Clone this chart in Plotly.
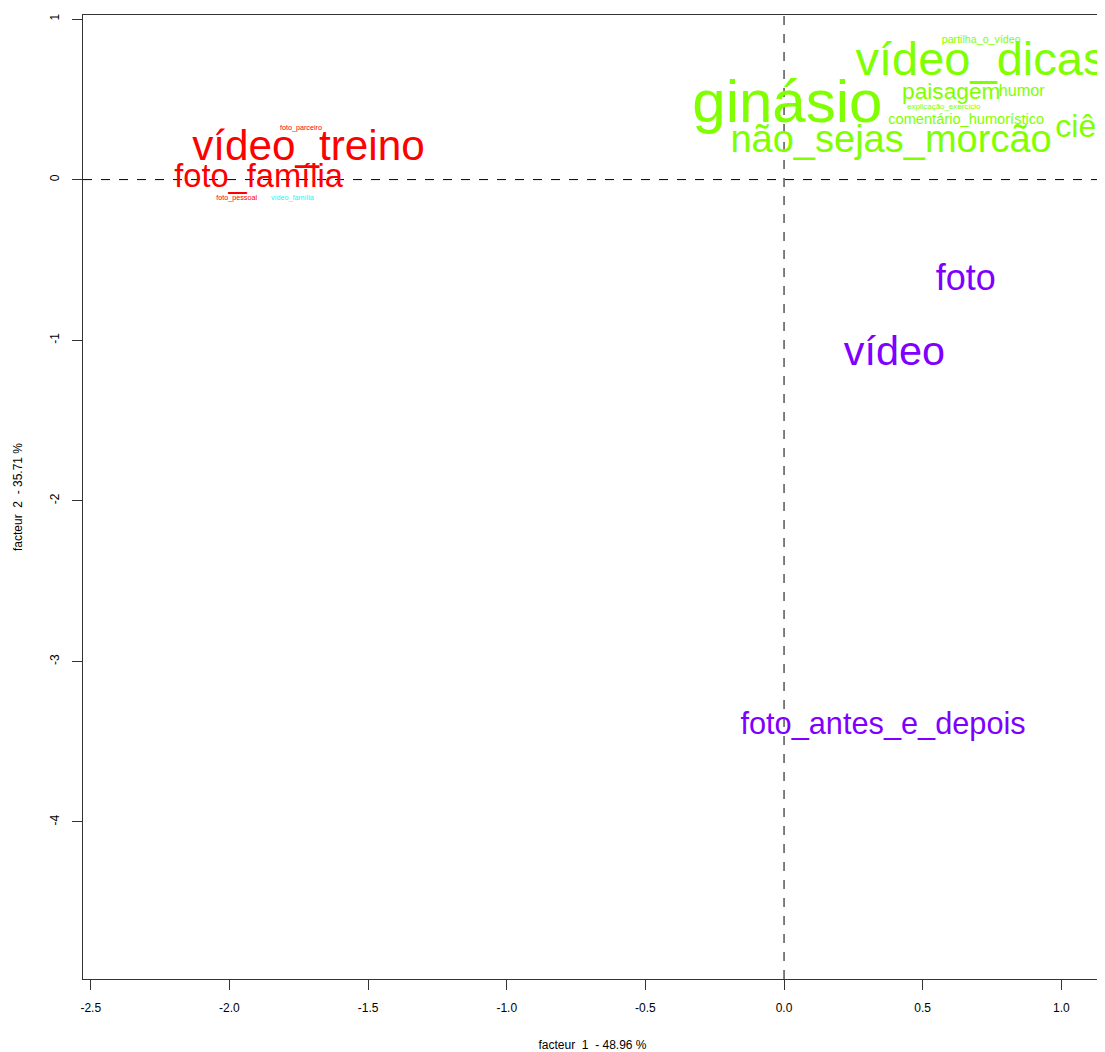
import plotly.graph_objects as go

# --- data ---
labels = ["vídeo_treino", "foto_família", "foto_parceiro", "foto_pessoal",
          "ginásio", "vídeo_dicas", "partilha_o_vídeo", "paisagem", "humor",
          "explicação_exercício", "comentário_humorístico", "não_sejas_morcão", "ciência",
          "vídeo_família",
          "foto", "vídeo", "foto_antes_e_depois"]
factor1 = [-1.715, -1.895, -1.742, -1.974,
           0.012, 0.710, 0.711, 0.603, 0.857,
           0.576, 0.657, 0.386, 1.158,
           -1.773,
           0.655, 0.398, 0.357]
factor2 = [0.186, 0.005, 0.318, -0.118,
           0.452, 0.723, 0.867, 0.534, 0.544,
           0.450, 0.371, 0.231, 0.315,
           -0.118,
           -0.629, -1.093, -3.402]
groups = [1, 1, 1, 1,
          2, 2, 2, 2, 2,
          2, 2, 2, 2,
          3,
          4, 4, 4]
# relative label weight (R cex-like)
weight = [3.52, 2.72, 0.60, 0.60,
          5.0, 3.92, 0.89, 1.89, 1.35,
          0.66, 1.22, 3.17, 2.67,
          0.60,
          3.0, 3.45, 2.56]
group_colors = {1: "#FF0000", 2: "#80FF00", 3: "#00FFFF", 4: "#8000FF"}
x_ticks = [-2.5, -2.0, -1.5, -1.0, -0.5, 0.0, 0.5, 1.0]
y_ticks = [1, 0, -1, -2, -3, -4]
x_title = "facteur  1  - 48.96 %"
y_title = "facteur  2  - 35.71 %"

FONT = "Liberation Sans, Arial, sans-serif"
BASE = 12

fig = go.Figure()
for g in [1, 2, 3, 4]:
    idx = [i for i, gg in enumerate(groups) if gg == g]
    fig.add_trace(go.Scatter(
        x=[factor1[i] for i in idx],
        y=[factor2[i] for i in idx],
        text=[labels[i] for i in idx],
        mode="text",
        textposition="middle center",
        textfont=dict(family=FONT, color=group_colors[g],
                      size=[BASE * weight[i] for i in idx]),
        cliponaxis=True,
        hoverinfo="text",
        showlegend=False,
    ))

fig.add_shape(type="line", xref="x", yref="paper", x0=0, x1=0, y0=0, y1=1,
              line=dict(color="black", width=1, dash="dash"), layer="below")
fig.add_shape(type="line", xref="paper", yref="y", x0=0, x1=1, y0=0, y1=0,
              line=dict(color="black", width=1, dash="dash"), layer="below")

# page body has an 8px margin, so the figure is sized to fill the rest of the window
fig.update_layout(
    width=1097, height=1044,
    margin=dict(l=75, r=2, t=7, b=65),
    paper_bgcolor="white", plot_bgcolor="white",
    font=dict(family=FONT, size=12, color="black"),
    xaxis=dict(range=[-2.528, 1.1466], tickvals=x_ticks,
               ticktext=[f"{v:.1f}" for v in x_ticks],
               showgrid=False, zeroline=False, showline=True, mirror=True,
               linecolor="#333333", linewidth=1, ticks="outside", ticklen=10,
               tickcolor="#333333", tickfont=dict(size=12),
               ticklabelstandoff=8,
               title=dict(text=x_title, font=dict(size=12), standoff=26)),
    yaxis=dict(range=[-4.978, 1.0249], tickvals=y_ticks,
               ticktext=[str(v) for v in y_ticks],
               showgrid=False, zeroline=False, showline=True, mirror=True,
               linecolor="#333333", linewidth=1, ticks="outside", ticklen=10,
               tickcolor="#333333", tickfont=dict(size=12), tickangle=-90,
               ticklabelstandoff=8,
               title=dict(text=y_title, font=dict(size=12), standoff=23)),
)

fig.write_html("out.html")
